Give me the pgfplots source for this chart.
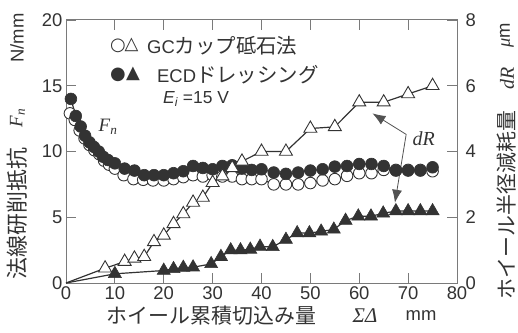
\documentclass[border=0pt]{standalone}
\usepackage{pgfplots}
\pgfplotsset{compat=1.18}
\usepackage{fontspec}
\setmainfont{Liberation Sans}
\newfontfamily\jp{Noto Sans CJK JP}
\newfontfamily\tms{Liberation Serif}
\newfontfamily\dv{DejaVu Sans}
\usetikzlibrary{arrows.meta}
\definecolor{fg}{HTML}{333333}
\definecolor{ax}{HTML}{7a7a7a}
\begin{document}
\begin{tikzpicture}[x=1bp,y=1bp]
\pgfplotsset{every axis/.append style={
  scale only axis, width=391bp, height=263bp, at={(0,0)}, anchor=south west,
  xmin=0, xmax=80, clip=false,
  tick align=inside, major tick length=10bp,
  every tick/.style={ax, line width=0.9bp},
  axis line style={ax, line width=1bp},
  tick label style={font=\fontsize{18.5}{20}\selectfont, text=fg},
  /pgf/number format/assume math mode=true,
}}
\pgfplotstableread{
x y
0.8 12.9
1.8 12.4
2.8 11.6
3.8 11.0
4.8 10.5
5.8 10.1
6.8 9.8
7.8 9.3
8.8 9.0
10 8.7
11.8 8.2
13.8 7.9
15.8 7.85
17.8 7.8
20 7.8
22 7.9
24 8.05
26 8.2
28 8.1
30 8.2
32 8.1
34 8.1
36 7.9
38 7.9
40 7.9
42.5 7.5
45 7.5
47.5 7.5
50 7.6
52.5 7.8
55 7.9
57.5 8.15
60 8.35
62.5 8.35
65 8.6
67.5 8.6
70 8.6
72.5 8.6
75 8.5
}\gcfn
\pgfplotstableread{
x y
1 14.0
2 12.7
3 11.9
3.9 11.2
4.8 10.7
5.7 10.35
6.7 10.0
7.6 9.6
8.6 9.35
10 9.1
12 8.7
14 8.55
16 8.2
18 8.2
20 8.2
22 8.35
24 8.5
26 8.9
28 8.75
30 8.65
32 8.9
34 8.95
36 8.7
38 8.6
40 8.65
42.5 8.4
45 8.3
47.5 8.4
50 8.55
52.5 8.65
55 8.85
57.5 8.9
60 9.05
62.5 9.05
65 8.9
67.5 8.55
70 8.55
72.5 8.55
75 8.8
}\ecdfn
\pgfplotstableread{
x y
0 0
8 0.45
12 0.65
14 0.75
16 0.8
18 1.25
20 1.45
22 1.8
24 2.1
26 2.45
28 2.6
30 3.05
32 3.25
34 3.5
36 3.7
40 4.0
45 4.0
50 4.7
55 4.75
60 5.5
65 5.5
70 5.75
75 6.0
}\gcdr
\pgfplotstableread{
x y
0 0
10 0.28
20 0.38
22 0.43
24 0.47
26 0.48
29.7 0.58
31.7 0.8
33.7 1.0
35.7 1.0
37.7 1.02
39.7 1.11
42.3 1.1
45 1.32
47.3 1.52
49.8 1.52
52.2 1.57
54.8 1.63
57.2 1.9
59.8 2.03
62.4 2.03
64.9 2.12
67.5 2.19
70 2.19
72.5 2.19
75 2.19
}\ecddr
\begin{axis}[ymin=0, ymax=20, xtick={0,10,...,80}, ytick={0,5,...,20},
  ytick pos=left, xtick pos=both, xticklabel pos=lower]
\addplot[draw=fg, line width=1.2bp, mark=*, mark size=5.8bp,
  mark options={fill=white, draw=fg, line width=0.9bp}] table {\gcfn};
\addplot[draw=fg, line width=1.2bp, mark=*, mark size=5.9bp,
  mark options={fill=fg, draw=fg, line width=0.6bp}] table {\ecdfn};
\node[font=\tms\itshape\fontsize{19}{20}\selectfont, text=fg] at (axis cs:8.6,11.9) {F\textsubscript{n}};
\node[font=\tms\itshape\fontsize{20}{20}\selectfont, text=fg] at (axis cs:73.2,11.0) {dR};
\draw[fg!85, line width=0.8bp, -{Latex[length=13bp,width=10bp]}] (axis cs:69.6,11.3) -- (axis cs:62.7,12.9);
\draw[fg!85, line width=0.8bp, -{Latex[length=13bp,width=10bp]}] (axis cs:69.6,11.3) -- (axis cs:67.3,6.1);
\end{axis}
\begin{axis}[ymin=0, ymax=8, axis x line=none, axis y line*=right,
  ytick={0,2,...,8}, yticklabel style={xshift=5bp}]
\addplot[draw=fg, line width=1.2bp, mark=triangle*, mark size=7.5bp, mark phase=2, mark repeat=1,
  mark options={fill=white, draw=fg, line width=0.9bp}] table {\gcdr};
\addplot[draw=fg, line width=1.2bp, mark=triangle*, mark size=7.5bp, mark phase=2, mark repeat=1,
  mark options={fill=fg, draw=fg, line width=0.6bp}] table {\ecddr};
\end{axis}
% legend
\node[font=\dv\fontsize{18}{18}\selectfont, text=fg, inner sep=0] at (52,237) {○};
\node[font=\dv\fontsize{18}{18}\selectfont, text=fg, inner sep=0] at (65.5,238) {△};
\node[font=\fontsize{18.5}{20}\selectfont, text=fg, anchor=west, inner sep=0] at (81,237) {GC{\jp\fontsize{20.5}{21}\selectfont カップ砥石法}};
\node[font=\dv\fontsize{18}{18}\selectfont, text=fg, inner sep=0] at (52,208) {●};
\node[font=\dv\fontsize{18}{18}\selectfont, text=fg, inner sep=0] at (67,209) {▲};
\node[font=\fontsize{18.5}{20}\selectfont, text=fg, anchor=west, inner sep=0] at (91,208) {ECD{\jp\fontsize{20.5}{21}\selectfont ドレッシング}};
\node[font=\fontsize{17.5}{19}\selectfont, text=fg, anchor=west, inner sep=0] at (97,184) {\textit{E\textsubscript{i}} =15 V};
% x label
\node[font=\jp\fontsize{21}{22}\selectfont, text=fg, inner sep=0] at (145.5,-33) {ホイール累積切込み量};
\node[font=\tms\itshape\fontsize{21}{22}\selectfont, text=fg, inner sep=0] at (299,-33) {ΣΔ};
\node[font=\fontsize{18.5}{20}\selectfont, text=fg, inner sep=0] at (355,-33) {mm};
% left label
\node[rotate=90, font=\jp\fontsize{22}{22}\selectfont, text=fg, inner sep=0] at (-49,69.5) {法線研削抵抗};
\node[rotate=90, font=\tms\itshape\fontsize{19}{20}\selectfont, text=fg, inner sep=0] at (-48.5,165) {F\textsubscript{n}};
\node[rotate=90, font=\fontsize{18.5}{20}\selectfont, text=fg, inner sep=0] at (-49,245) {N/mm};
% right label
\node[rotate=90, font=\jp\fontsize{21}{22}\selectfont, text=fg, inner sep=0] at (441,78) {ホイール半径減耗量};
\node[rotate=90, font=\tms\itshape\fontsize{20}{20}\selectfont, text=fg, inner sep=0] at (441,205) {dR};
\node[rotate=90, font=\fontsize{18.5}{20}\selectfont, text=fg, inner sep=0] at (441,248) {{\tms\itshape μ}m};
\pgfresetboundingbox
\path (-66,-49) rectangle (452,283);
\end{tikzpicture}
\end{document}
